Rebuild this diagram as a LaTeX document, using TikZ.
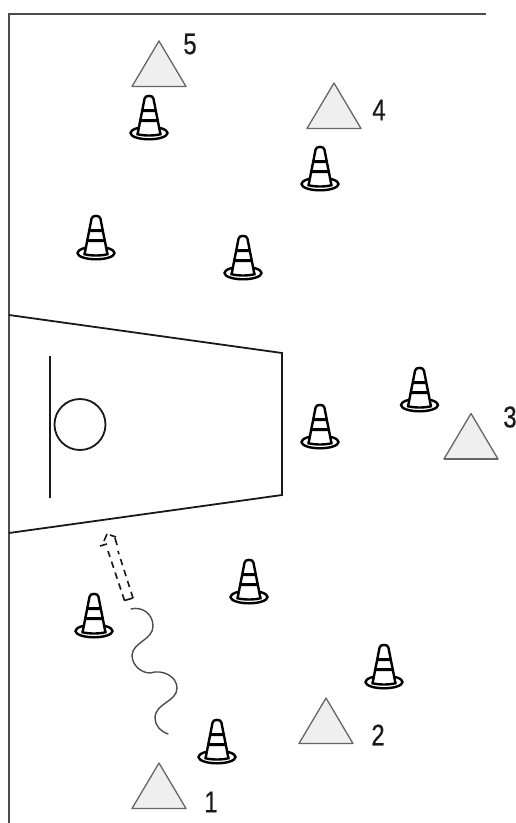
\documentclass[tikz,border=0pt]{standalone}
\usepackage{fontspec}
\setmainfont{Liberation Sans}
\newfontfamily\numfont[FakeStretch=0.8,FakeBold=0.4]{Liberation Sans}
\usetikzlibrary{arrows.meta}
\definecolor{triFill}{HTML}{EFEFEF}
\definecolor{triEdge}{HTML}{666666}
\tikzset{
  x=1pt,y=-1pt,
  conepic/.pic={
    \draw[line width=2.4pt,fill=white] (0,0) ellipse [x radius=18.5,y radius=6.3];
    \fill[white] (-11.5,1) -- (-4,-37) -- (4,-37) -- (11.5,1) -- cycle;
    \fill (-9,-14) -- (9,-14) -- (9.6,-11) -- (-9.6,-11) -- cycle;
    \fill (-6.5,-24) -- (6.5,-24) -- (7,-21) -- (-7,-21) -- cycle;
    \draw[line width=2.4pt,line join=round] (-11.5,1.5) -- (-4.4,-34.5) .. controls (-4,-38) and (4,-38) .. (4.4,-34.5) -- (11.5,1.5);
    \draw[line width=2.4pt] (-12.5,1) .. controls (-5,3) and (5,3) .. (12.5,1);
  },
  tripic/.pic={
    \draw[triEdge,fill=triFill,line width=1.3pt,line join=round] (0,0) -- (27,45.5) -- (-27,45.5) -- cycle;
    \draw[triEdge,line width=1.8pt] (-27,45.5) -- (27,45.5);
  },
  numlabel/.style={font=\numfont\fontsize{30}{30}\selectfont,inner sep=0pt,text=black!90},
  court/.style={line width=1.8pt,draw=black!90},
  bar/.style={line width=2pt,draw=black!90},
  wavy/.style={line width=1.4pt,draw=black!70,line cap=round},
  dashedarrow/.style={line width=1.6pt,dash pattern=on 6.5pt off 5pt,draw=black!90}
}
\begin{document}
\begin{tikzpicture}
\useasboundingbox (0,0) rectangle (516,823);
\fill[white] (0,0) rectangle (516,823);
% frame
\coordinate (fb) at (9,823); \coordinate (ftl) at (9,14); \coordinate (ftr) at (486,14);
\draw[line width=1.4pt,draw=black!70] (fb) -- (ftl) -- (ftr);
% key
\coordinate (k1) at (9,315); \coordinate (k2) at (282,353); \coordinate (k3) at (282,495); \coordinate (k4) at (9,533);
\draw[court] (k1) -- (k2) -- (k3) -- (k4);
\coordinate (b1) at (50,356); \coordinate (b2) at (50,498);
\draw[bar] (b1) -- (b2);
\node[draw=black!90,line width=1.8pt,circle,minimum size=51pt,inner sep=0pt] (hoop) at (80,424.5) {};
% triangles
\pic at (159,41) {tripic};
\pic at (334,83) {tripic};
\pic at (471,413.5) {tripic};
\pic at (326,698) {tripic};
\pic at (159,763) {tripic};
\node[numlabel] (n5) at (190,44) {5};
\node[numlabel] (n4) at (379,110) {4};
\node[numlabel] (n3) at (510,417) {3};
\node[numlabel] (n2) at (378,735) {2};
\node[numlabel] (n1) at (211,802) {1};
% cones
\foreach \cx/\cy in {149/133,320/184,96/253,243/273,419.5/405,320/442,249/597,94/631,384/682,217/757}
  \pic at (\cx,\cy) {conepic};
% dribble
\coordinate (w0) at (131,609);
\coordinate (w6) at (168,734);
\draw[wavy] (w0) .. controls (142,606) and (153,614) .. (153,626)
  .. controls (153,640) and (133,642) .. (132,655)
  .. controls (132,666) and (142,673) .. (150,673)
  .. controls (162,669) and (177,676) .. (177,688)
  .. controls (177,702) and (155,703) .. (155,718)
  .. controls (155,725) and (160,731) .. (168,734);
% pass arrow
\coordinate (a1) at (124.5,600.5); \coordinate (a2) at (108,551);
\coordinate (a3) at (133,598); \coordinate (a4) at (118,551);
\draw[dashedarrow] (a1) -- (a2);
\draw[dashedarrow] (a3) -- (a4);
\draw[dashedarrow,dash pattern=on 9pt off 0pt] (a1) -- (a3);
\draw[dashedarrow,dash pattern=on 7pt off 0pt] (100,546) -- (107,544);
\draw[dashedarrow,dash pattern=on 8pt off 0pt] (104,541) -- (107,534);
\draw[dashedarrow,dash pattern=on 7pt off 0pt] (110,535) -- (116,537);
\draw[dashedarrow,dash pattern=on 8pt off 0pt] (115,538) -- (117,545);
\end{tikzpicture}
\end{document}
